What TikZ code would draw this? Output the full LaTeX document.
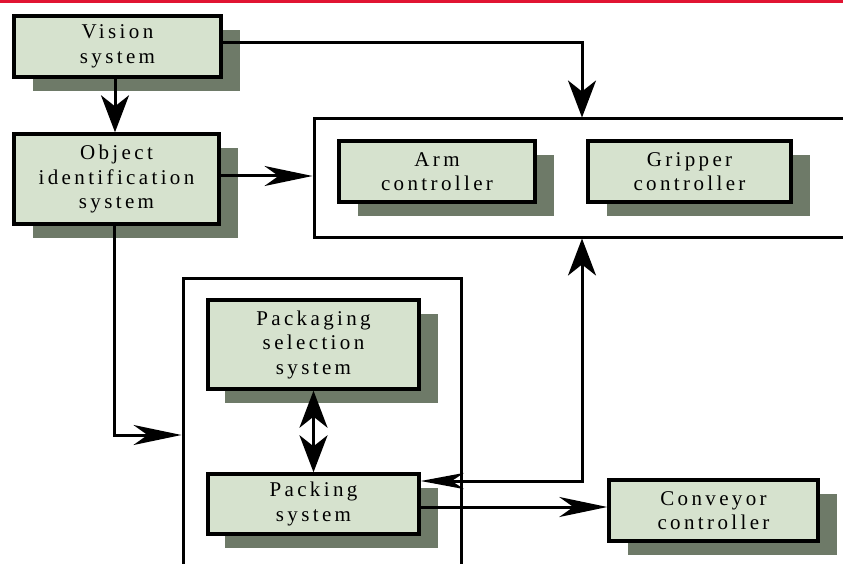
\documentclass[tikz,border=0pt]{standalone}
\usepackage{fontspec}
\newfontfamily\boxfont{Liberation Serif}[LetterSpace=16]
\usetikzlibrary{arrows.meta,shadows}
\definecolor{boxfill}{RGB}{214,226,206}
\definecolor{shadowc}{RGB}{110,122,104}
\definecolor{redline}{RGB}{225,20,50}
\begin{document}
\begin{tikzpicture}[x=1pt,y=-1pt,
  box/.style={draw, line width=3.4pt, fill=boxfill, inner sep=0pt, align=center,
    font=\boxfont\fontsize{21}{24.5}\selectfont,
    drop shadow={shadow xshift=19pt, shadow yshift=-14pt, fill=shadowc, opacity=1}},
  pbox/.style={box, drop shadow={shadow xshift=17pt, shadow yshift=-13.5pt, fill=shadowc, opacity=1}},
  frame/.style={draw, line width=3pt, inner sep=0pt},
  link/.style={line width=3pt},
  vtip/.style={-{Stealth[length=37pt,width=28pt,inset=11pt]}},
  htip/.style={-{Stealth[length=48pt,width=20pt,inset=14pt]}},
]
\useasboundingbox (0,0) rectangle (843,564);
\fill[redline] (0,0) rectangle (843,3.5);

% containers
\node[frame, minimum width=536pt, minimum height=118pt] (armgrip) at (582,178) {};
\node[frame, minimum width=278pt, minimum height=302pt] (packc) at (322,429) {};

% boxes
\node[box, minimum width=207pt, minimum height=61pt] (vision) at (117.5,46.5) {Vision\\system};
\node[box, minimum width=205pt, minimum height=90pt] (object) at (116.5,179) {Object\\identification\\system};
\node[box, minimum width=196pt, minimum height=61pt] (arm) at (437,171.5) {Arm\\controller};
\node[box, minimum width=203pt, minimum height=61pt] (gripper) at (689.5,171.5) {Gripper\\controller};
\node[pbox, minimum width=211pt, minimum height=89pt] (packsel) at (313.5,344.5) {Packaging\\selection\\system};
\node[pbox, minimum width=211pt, minimum height=60pt] (packing) at (313.5,504) {Packing\\system};
\node[box, minimum width=209pt, minimum height=61pt] (conveyor) at (713.5,510.5) {Conveyor\\controller};

% connectors
\draw[link, vtip] ([yshift=3.5pt]vision.east) -| (armgrip.north);
\draw[link, vtip] ([xshift=-2.5pt]vision.south) -- ([xshift=-2.5pt]vision.south |- object.north);
\draw[link, htip] ([yshift=3pt]object.east) -- ([yshift=3pt]object.east -| armgrip.west);
\draw[link, htip] ([xshift=-2.5pt]object.south) |- ([yshift=-6pt]packc.west);
\draw[link, {Stealth[length=37pt,width=28pt,inset=11pt]}-{Stealth[length=37pt,width=28pt,inset=11pt]}] (packsel.south) -- (packing.north);
\draw[link, {Stealth[length=43pt,width=16pt,inset=12pt]}-{Stealth[length=37pt,width=28pt,inset=11pt]}] ([yshift=23pt]packing.east) -| (armgrip.south);
\draw[link, htip] ([yshift=-3pt]packing.east) -- ([yshift=-3pt]packing.east -| conveyor.west);
\end{tikzpicture}
\end{document}
